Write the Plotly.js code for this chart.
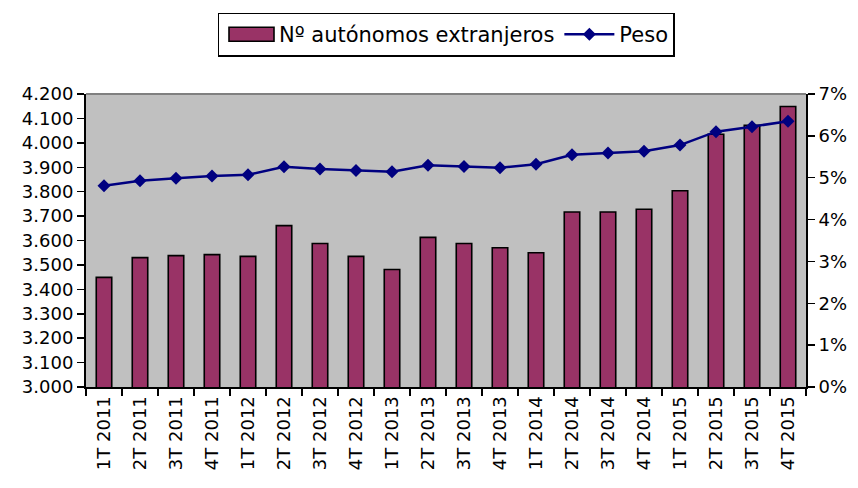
<!DOCTYPE html>
<html>
<head>
<meta charset="utf-8">
<script src="https://cdn.plot.ly/plotly-3.0.1.min.js"></script>
<style>html,body{margin:0;padding:0;background:#fff;}#chart{width:858px;height:488px;}</style>
</head>
<body>
<div id="chart"></div>
<script>
const categories = ["1T 2011","2T 2011","3T 2011","4T 2011","1T 2012","2T 2012","3T 2012","4T 2012","1T 2013","2T 2013","3T 2013","4T 2013","1T 2014","2T 2014","3T 2014","4T 2014","1T 2015","2T 2015","3T 2015","4T 2015"];
const autonomos = [3449,3530,3538,3542,3535,3661,3588,3535,3481,3613,3588,3570,3550,3717,3717,3728,3804,4035,4072,4149];
const peso = [0.0481,0.0493,0.0499,0.0504,0.0507,0.0526,0.0521,0.0517,0.0514,0.0530,0.0527,0.0524,0.0532,0.0555,0.0559,0.0563,0.0578,0.0610,0.0622,0.0635];

const FONT = "DejaVu Sans, Verdana, sans-serif";
const TICKSIZE = 18;

const traces = [
  {
    type: "bar", name: "Nº autónomos extranjeros",
    x: categories, y: autonomos, yaxis: "y",
    marker: {color: "#993366", line: {color: "#000000", width: 1.6}}
  },
  {
    type: "scatter", mode: "lines+markers", name: "Peso",
    x: categories, y: peso, yaxis: "y2",
    line: {color: "#000080", width: 2.5},
    marker: {symbol: "diamond", size: 10, color: "#000080"}
  }
];

const layout = {
  width: 858, height: 488,
  margin: {l: 86, r: 52, t: 90, b: 101, pad: 0},
  paper_bgcolor: "#ffffff",
  plot_bgcolor: "#c0c0c0",
  font: {family: FONT, size: TICKSIZE, color: "#000000"},
  separators: ",.",
  bargap: 0.57,
  showlegend: true,
  legend: {
    orientation: "h", x: 0.5, xanchor: "center", y: 1.278, yanchor: "top",
    bgcolor: "#ffffff", bordercolor: "#000000", borderwidth: 1.5,
    font: {family: FONT, size: 21, color: "#000000"},
    traceorder: "normal", itemwidth: 50, tracegroupgap: 0
  },
  xaxis: {
    type: "category",
    tickangle: -90,
    showline: true, linecolor: "#000000", linewidth: 2,
    ticks: "outside", ticklen: 7, tickwidth: 1.5, tickcolor: "#000000",
    tickson: "boundaries",
    showgrid: false, zeroline: false,
    tickfont: {family: FONT, size: TICKSIZE},
    range: [-0.5, 19.5]
  },
  yaxis: {
    range: [3000, 4200], dtick: 100, tickformat: ",d",
    showline: true, linecolor: "#000000", linewidth: 2,
    ticks: "outside", ticklen: 7, tickwidth: 1.5, tickcolor: "#000000",
    showgrid: false, zeroline: false,
    tickfont: {family: FONT, size: TICKSIZE}
  },
  yaxis2: {
    overlaying: "y", side: "right",
    range: [0, 0.07], dtick: 0.01, tickformat: ".0%",
    showline: true, linecolor: "#000000", linewidth: 2,
    ticks: "outside", ticklen: 7, tickwidth: 1.5, tickcolor: "#000000",
    showgrid: false, zeroline: false,
    tickfont: {family: FONT, size: TICKSIZE}
  },
  shapes: [
    {type: "line", xref: "paper", yref: "paper", x0: 0, x1: 1, y0: 1, y1: 1,
     line: {color: "#808080", width: 2}}
  ]
};

Plotly.newPlot("chart", traces, layout, {displayModeBar: false, staticPlot: true}).then(function (gd) {
  // widen the legend swatch of the bar series, like the original chart's key
  gd.querySelectorAll(".legend path.legendbar, .legend .legendpoints path").forEach(function (p) {
    if (p.classList.contains("legendbar") || p.getAttribute("d") === "M6,6H-6V-6H6Z") {
      p.setAttribute("d", "M25,7H-20V-7H25Z");
    }
  });
});
</script>
</body>
</html>
